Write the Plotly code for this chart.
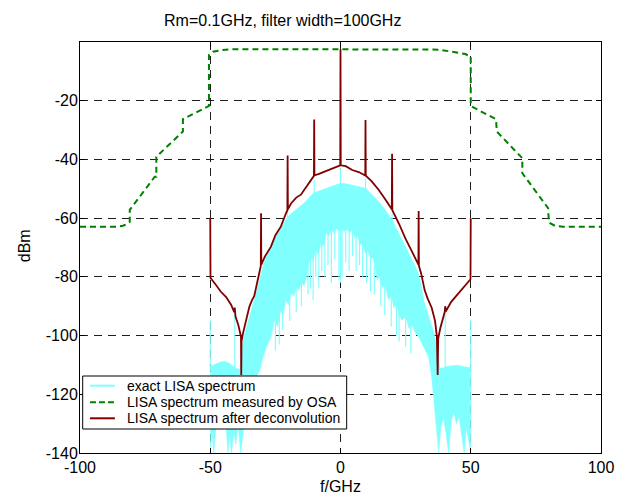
import plotly.graph_objects as go

# ---------------- data (frequency in GHz, power in dBm) ----------------
# exact LISA spectrum: upper envelope of the dense trace
exact_top_f = [-50, -49, -47.5, -46, -44.5, -43, -41.5, -40, -38.6, -38.0, -37.4, -36.5,
               -35.5, -34.5, -33.5, -32.5, -31.5, -30.5, -29.5, -28.5, -26.7, -25, -22.9,
               -21, -19, -17, -15, -14, -12, -10.5, -9, -7, -5, -3.7, -2, 0, 2, 4.5, 7,
               9.6, 10.5, 12.5, 14.7, 17, 19.8, 22, 24.9, 27, 29, 30, 31, 31.9, 33, 34.5,
               35.8, 36.8, 37.5, 38.2, 39.5, 41, 43, 45.3, 47, 48.5, 50]
exact_top_dbm = [-110.5, -110, -109.5, -109, -108.8, -109.3, -110.3, -111.2, -111.5, -105,
                 -101.5, -98.5, -95, -92, -89, -86, -82.5, -78, -75.5, -73, -69.7, -66.5,
                 -63.5, -60.5, -58.5, -57, -55.5, -54.9, -53, -51.5, -51, -50.3, -49.7,
                 -49.3, -48.6, -48.1, -48.3, -48.7, -49.3, -49.8, -50.5, -52.3, -54.4, -57,
                 -60.6, -64.5, -69.7, -73.5, -77, -79.4, -83, -87.9, -91, -95, -99, -103,
                 -107.5, -111.2, -111, -110.5, -110.3, -110.2, -110.5, -110.8, -111]

# exact LISA spectrum: lower edge of the dense trace
exact_floor_f = [-50, -49.3, -48.6, -47.8, -47, -46, -45, -44, -43.2, -42.5, -41.8, -41,
                 -40.2, -39.3, -38.3, -37.5, -36.8, -36, -35, -34, -33, -32, -31, -30,
                 -28.5, -26.7, -25.4, -24.2, -23, -22, -21, -20, -19, -18, -17, -16, -15,
                 -14, -13.3, -12.5, -11.5, -10.5, -9.5, -8.5, -7.5, -6.5, -5.5, -4.5, -3.5,
                 -2.5, -1.5, -0.5, 0.5, 1.5, 2.5, 3.5, 4.5, 5.5, 6.5, 7.5, 8.5, 9.5, 10.5,
                 11.5, 12.5, 13.5, 14.1, 15, 16, 17, 18.5, 19.5, 20.5, 21.5, 22.5, 23.6, 25,
                 26.3, 27.5, 29, 30, 31, 32.2, 33.8, 35, 35.8, 36.4, 37, 37.7, 38.5, 39.5,
                 40.5, 41.5, 42.5, 43.5, 44.5, 45.5, 46.5, 47.5, 48.3, 49.2, 50]
exact_floor_dbm = [-140, -133, -140, -131, -127, -130, -126, -129, -140, -134, -140, -132,
                   -137, -130, -140, -134, -127, -122, -118, -116, -115, -113.5, -112, -108,
                   -104, -100.4, -94.7, -97, -91.5, -93, -87.9, -89.5, -85.5, -86.5, -83.5,
                   -84.5, -82, -83, -81, -77, -73, -74.5, -71, -72.5, -68.5, -69.5, -65, -66,
                   -64, -65, -63.5, -64.5, -63.5, -64.5, -63.8, -65, -64, -66.5, -66, -69,
                   -68.5, -72, -71, -74, -73.5, -77.5, -81, -80, -83.5, -82.5, -87.9, -86.5,
                   -90.5, -89.5, -93, -94.7, -93.5, -97.5, -96.5, -99.5, -100.4, -102.5,
                   -104.5, -107.2, -114, -121, -127.6, -133, -140, -131, -128, -133, -140,
                   -129, -126, -130, -127.5, -134, -140, -131, -136, -140]

# exact LISA spectrum: narrow excursions (frequency, upper level, lower level)
exact_spike_f = [-50, -40.6, -20.3, -10.1, 0, 9.6, 19.8, 40.2, 50,
                 -25, -23.5, -22.2, -19.5, -17, -15, -12.5, -11.5, -10.5, -9.5, -8.3, -7.2,
                 -6, -4.8, -3.5, -2.2, -0.6, 0.6, 2, 3.3, 4.6, 6, 7.3, 8.5, 10, 11.5, 13,
                 15.5, 17, 19.5, 21.5, 22.5, 25, 27]
exact_spike_hi = [-94.7, -91, -56.5, -47, -43, -46.4, -58.5, -90.2, -94.7,
                  -93, -92, -90, -86, -84, -82, -76, -73, -74, -71, -72, -68,
                  -67, -65, -64, -64, -64, -63, -64, -64, -64, -66, -68, -68, -71, -74, -76,
                  -81, -82, -86, -89, -92, -93, -96]
exact_spike_lo = [-112, -112, -60, -52, -82, -51, -61.5, -112, -112,
                  -105, -103, -98, -95, -92, -90, -86, -84, -88, -80, -84, -78,
                  -80, -76, -82, -74, -81, -80, -75, -78, -73, -78, -76, -80, -82, -85, -86,
                  -90, -93, -97, -100, -102, -104, -106]

# spectrum measured by the OSA
osa_f = [-100, -86, -83.5, -81.5, -80.9, -80.9, -71.3, -70.7, -70.7, -60.5, -60.5, -50.5,
         -50.5, -49, -45.2, -41.4, 0, 37.7, 42.8, 47.9, 50, 50, 59.7, 60, 69.8, 69.8, 79.7,
         80, 82.3, 85.5, 100]
osa_dbm = [-62.9, -62.9, -62.6, -61.8, -61.2, -57.2, -45.9, -45.9, -39.1, -30.5, -26.3,
           -21.8, -4.4, -3.3, -2.7, -2.5, -2.5, -2.6, -3.3, -4.1, -5.0, -21.8, -26.3, -30.5,
           -39.6, -44.7, -56.6, -61.5, -62.6, -62.9, -62.9]

# spectrum after deconvolution
deconv_f = [-50, -49.9, -48, -46, -43.9, -42, -40.8, -40.6, -40.3, -39.2, -38.2, -38.1,
            -38.0, -37.5, -36.5, -35, -34, -33.1, -32, -31, -30.6, -30.5, -30.4, -29, -28,
            -26.7, -25, -22.9, -21, -20.4, -20.3, -20.2, -19, -17, -15.2, -13, -11.5, -10.2,
            -10.1, -10.0, -8.5, -6.3, -4, -2, -0.1, 0, 0.1, 2, 4.5, 7, 9.5, 9.6, 9.7, 12,
            14.7, 17.5, 19.7, 19.8, 19.9, 22.5, 24.9, 27.5, 29.9, 30, 30.1, 31, 32.3, 33.5,
            35, 36.3, 37, 37.3, 37.5, 38.3, 40, 40.2, 40.4, 42.5, 45.3, 47.5, 49.9, 50]
deconv_dbm = [-60, -80.4, -82.5, -85, -86.9, -89.5, -92, -90.5, -93.5, -96.5, -100.4, -113.4,
              -102, -99.5, -96, -90.2, -88, -86.5, -82, -78, -76.3, -58.3, -75.8, -73, -71.5,
              -69.7, -65.8, -62.9, -58.5, -57.3, -38.7, -57, -55, -53, -52, -49, -47, -45.6,
              -26.4, -45.4, -45, -44.2, -43.3, -42.5, -42, -2.5, -42, -42.3, -43.6, -44.3,
              -45.5, -26.6, -45.5, -47.5, -50.4, -54, -57, -38.1, -57.3, -62, -66.9, -71.5,
              -75.8, -57.6, -76.2, -79, -84.5, -87.5, -90.5, -95, -100.4, -113.4, -101,
              -97.5, -92, -90, -91.8, -88.5, -85.6, -83, -80.8, -60]

x_ticks = [-100, -50, 0, 50, 100]
x_tick_text = ["-100", "-50", "0", "50", "100"]
y_ticks = [-140, -120, -100, -80, -60, -40, -20]
y_tick_text = ["-140", "-120", "-100", "-80", "-60", "-40", "-20"]

legend_names = ["exact LISA spectrum", "LISA spectrum measured by OSA",
                "LISA spectrum after deconvolution"]

# ---------------- styling ----------------
CYAN = "rgb(128,255,255)"
GREEN = "rgb(0,128,0)"
RED = "rgb(128,0,0)"
FONT = "Liberation Sans, Arial, Helvetica, sans-serif"

fig = go.Figure()

# dense exact spectrum drawn as a filled band between its envelope and lower edge
band_x = exact_top_f + exact_floor_f[::-1]
band_y = exact_top_dbm + exact_floor_dbm[::-1]
fig.add_trace(go.Scatter(x=band_x, y=band_y, mode="lines", fill="toself",
                         fillcolor=CYAN, line=dict(color=CYAN, width=0.6),
                         hoverinfo="skip", showlegend=False))

sx, sy = [], []
for f, hi, lo in zip(exact_spike_f, exact_spike_hi, exact_spike_lo):
    sx += [f, f, None]
    sy += [hi, lo, None]
fig.add_trace(go.Scatter(x=sx, y=sy, mode="lines", name=legend_names[0],
                         line=dict(color=CYAN, width=1.2), showlegend=False))

fig.add_trace(go.Scatter(x=osa_f, y=osa_dbm, mode="lines", name=legend_names[1],
                         line=dict(color=GREEN, width=2, dash="6px,4px"),
                         showlegend=False))

fig.add_trace(go.Scatter(x=deconv_f, y=deconv_dbm, mode="lines", name=legend_names[2],
                         line=dict(color=RED, width=1.8), showlegend=False))

# ---------------- legend box ----------------
L, R, T, B = 80, 603, 42, 453  # plot area in pixels


def px(xp):
    return (xp - L) / (R - L)


def py(yp):
    return (B - yp) / (B - T)


shapes = [dict(type="rect", xref="paper", yref="paper", x0=px(82.7), x1=px(347.7),
               y0=py(429), y1=py(376), line=dict(color="black", width=1),
               fillcolor="white", layer="above")]
annotations = []
rows = [385.7, 402.3, 418.3]
styles = [dict(color=CYAN, width=2), dict(color=GREEN, width=2, dash="6px,3px"),
          dict(color=RED, width=2)]
for name, row, st in zip(legend_names, rows, styles):
    shapes.append(dict(type="line", xref="paper", yref="paper", x0=px(90), x1=px(115),
                       y0=py(row), y1=py(row), line=st, layer="above"))
    annotations.append(dict(text=name, xref="paper", yref="paper", x=px(125), y=py(row),
                            xanchor="left", yanchor="middle", showarrow=False,
                            font=dict(family=FONT, size=14, color="black")))

annotations += [
    dict(text="Rm=0.1GHz, filter width=100GHz", xref="paper", yref="paper",
         x=px(283), y=py(21), xanchor="center", yanchor="middle", showarrow=False,
         font=dict(family=FONT, size=16, color="black")),
    dict(text="dBm", xref="paper", yref="paper", x=px(25), y=py(246), textangle=-90,
         xanchor="center", yanchor="middle", showarrow=False,
         font=dict(family=FONT, size=16, color="black")),
    dict(text="f/GHz", xref="paper", yref="paper", x=px(341.5), y=py(487),
         xanchor="center", yanchor="middle", showarrow=False,
         font=dict(family=FONT, size=16, color="black")),
]

axis_common = dict(showline=True, linecolor="black", linewidth=1, mirror="ticks",
                   ticks="inside", ticklen=5, tickcolor="black", showgrid=True,
                   gridcolor="rgb(30,30,30)", gridwidth=1, griddash="8px,6px",
                   zeroline=False, tickfont=dict(family=FONT, size=16, color="black"))

fig.update_layout(
    width=626, height=495,
    margin=dict(l=L, r=626 - R, t=T, b=495 - B),
    paper_bgcolor="white", plot_bgcolor="white",
    xaxis=dict(range=[-100, 100], tickvals=x_ticks, ticktext=x_tick_text, **axis_common),
    yaxis=dict(range=[-140, 0], tickvals=y_ticks, ticktext=y_tick_text,
               ticklabelstandoff=-2, **axis_common),
    shapes=shapes, annotations=annotations,
    font=dict(family=FONT),
)

fig.write_html("out.html")
